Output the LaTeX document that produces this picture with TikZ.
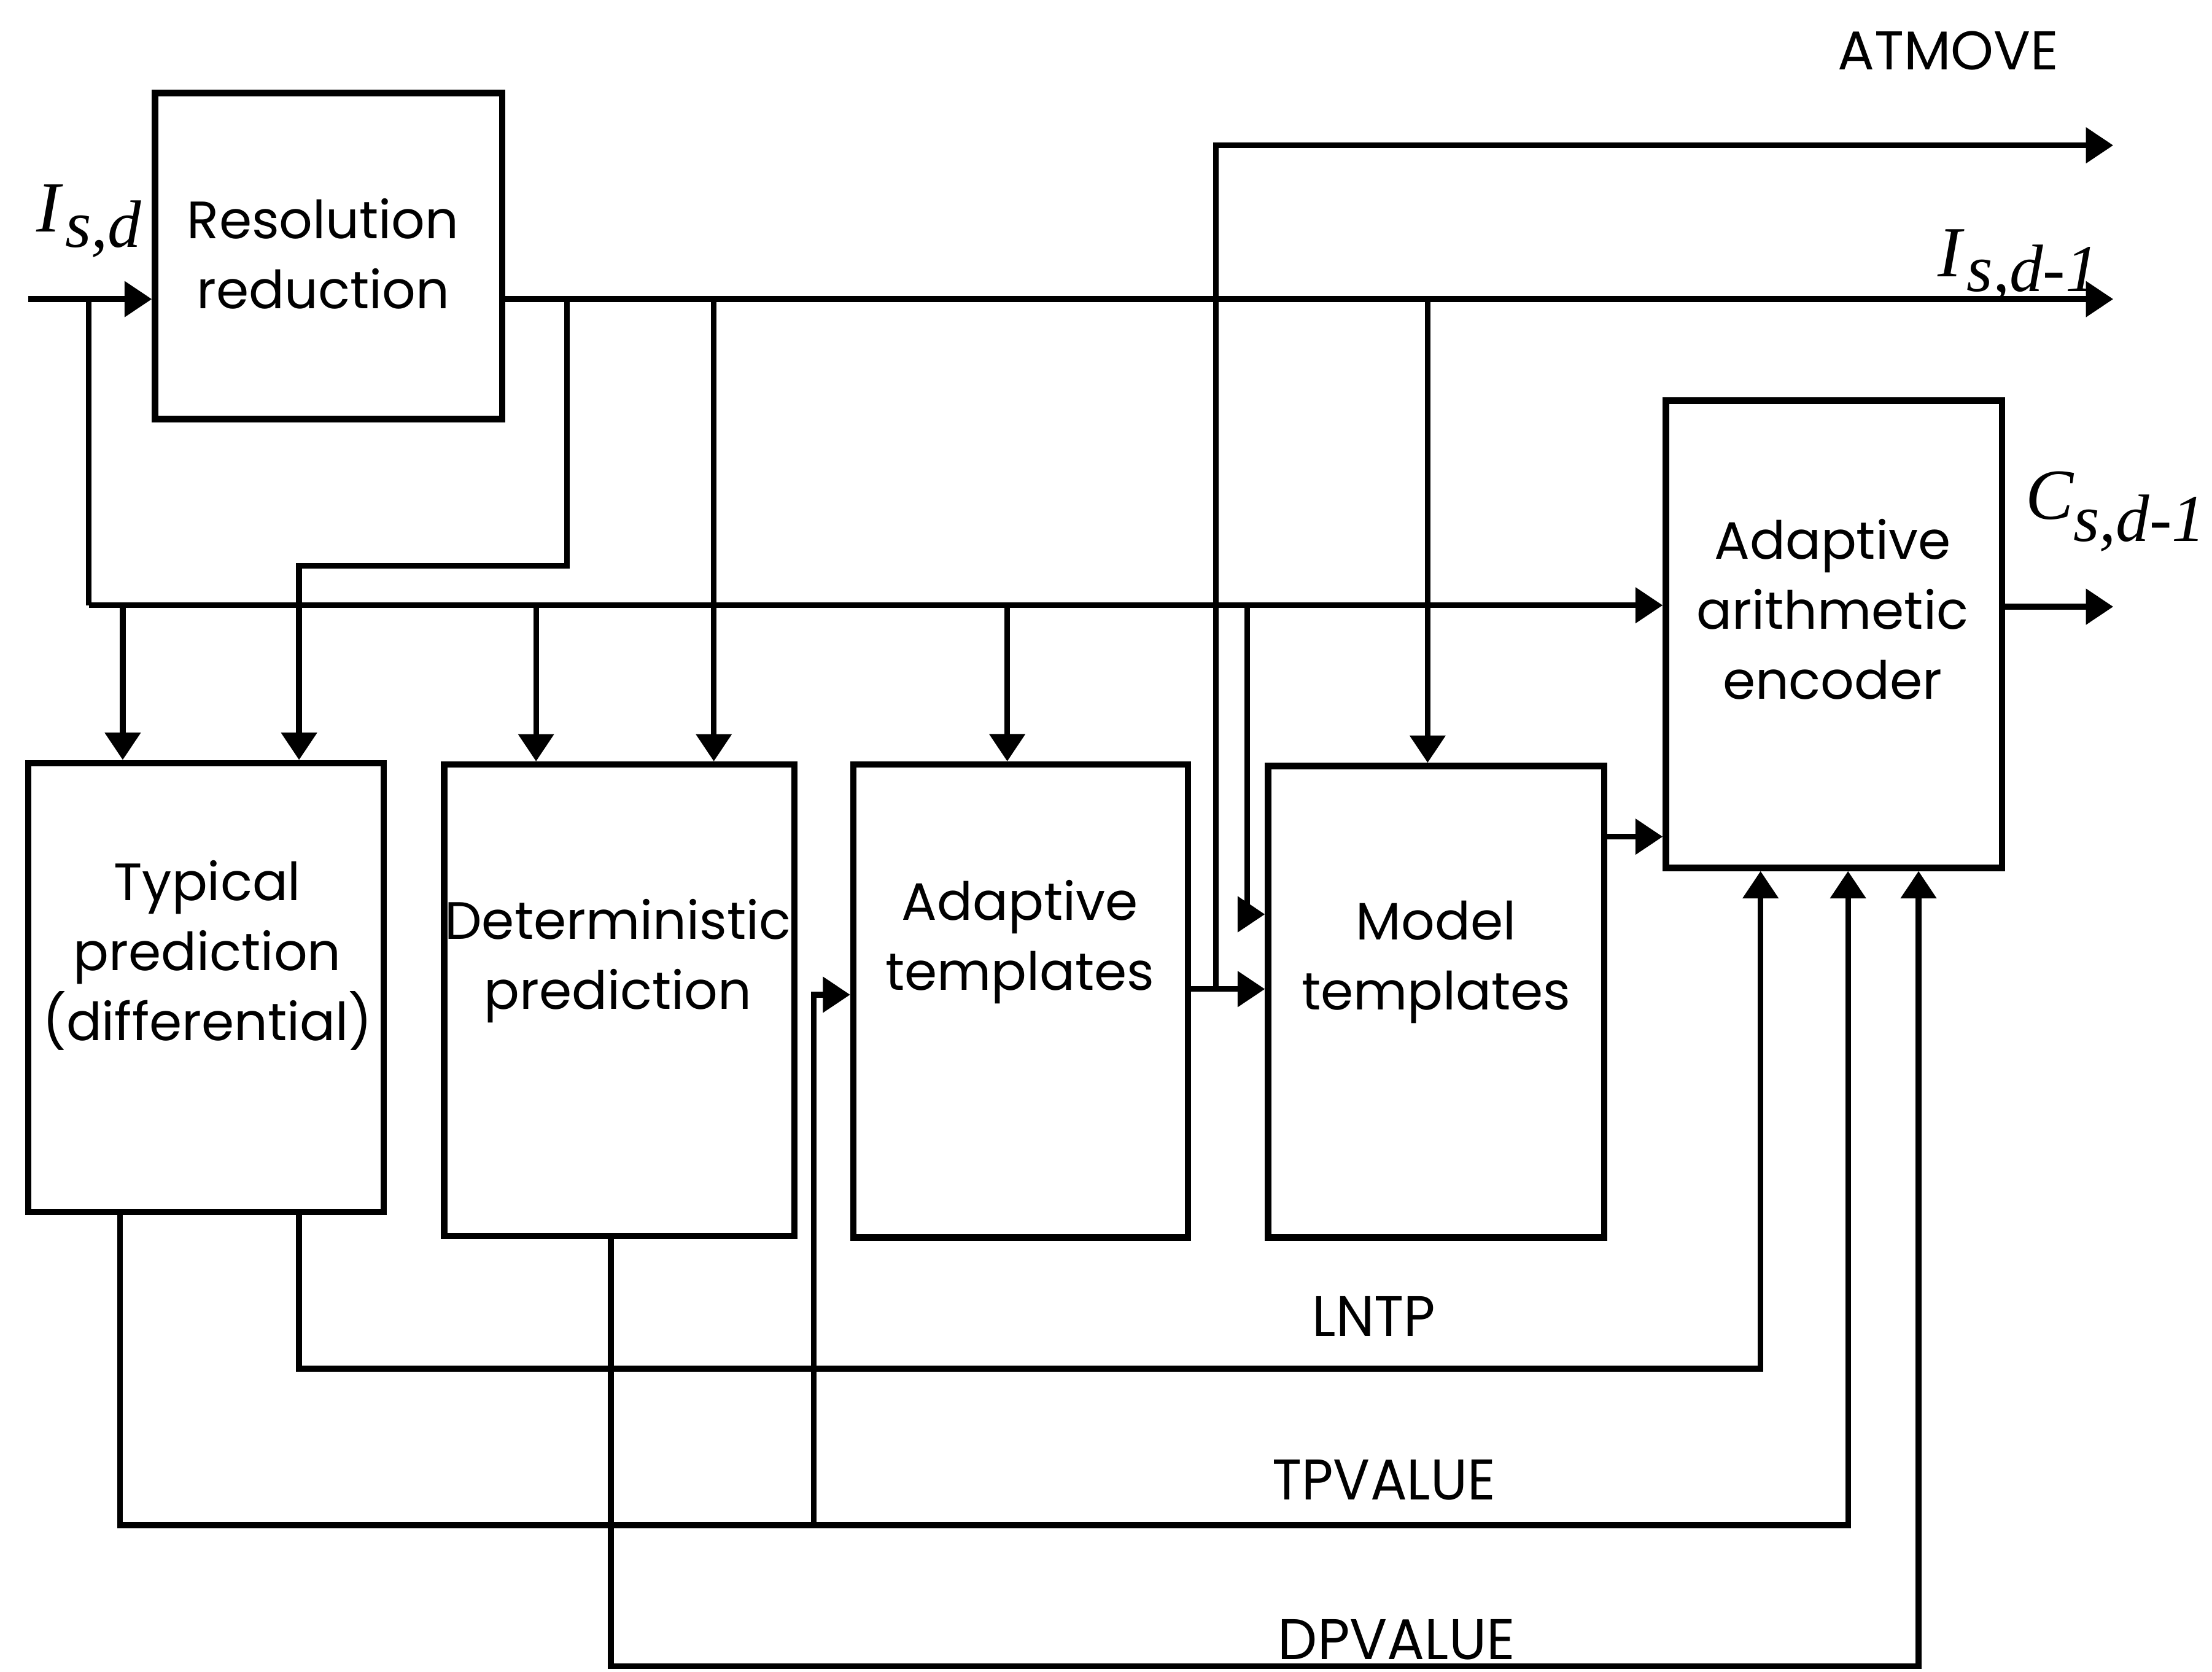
\documentclass[tikz,border=0pt]{standalone}
\usepackage{fontspec}
\setmainfont{Poppins}
\newfontfamily\tms{Liberation Serif}
\usetikzlibrary{arrows.meta}
\begin{document}
\begin{tikzpicture}[x=0.01cm,y=-0.01cm,
 box/.style={draw,line width=1.3pt,inner sep=0pt},
 txt/.style={align=center,inner sep=0pt,font=\fontsize{10.6}{14.1}\selectfont},
 sig/.style={inner sep=0pt,font=\fontsize{11}{13}\selectfont},
 wire/.style={line width=1.15pt},
 arr/.style={wire,-{Triangle[length=5.5pt,width=7pt]}},
 ital/.style={inner sep=0pt,anchor=base west,font=\tms\itshape\fontsize{14.5}{15}\selectfont}]
\useasboundingbox (0,0) rectangle (1568,1185);
\fill[white] (0,0) rectangle (1568,1185);

% boxes
\node[box,minimum width=2.46cm,minimum height=2.31cm] (res) at (233,181.5) {};
\node[box,minimum width=2.52cm,minimum height=3.18cm] (typ) at (146,700) {};
\node[box,minimum width=2.48cm,minimum height=3.34cm] (det) at (439,709) {};
\node[box,minimum width=2.37cm,minimum height=3.35cm] (adt) at (723.5,709.5) {};
\node[box,minimum width=2.38cm,minimum height=3.34cm] (mod) at (1018,710) {};
\node[box,minimum width=2.38cm,minimum height=3.31cm] (enc) at (1300,449.5) {};

% box texts
\node[txt] (rest) at (229,180) {Resolution\\reduction};
\node[txt] (typt) at (147,677) {Typical\\prediction\\(differential)};
\node[txt] (dett) at (438,681) {Deterministic\\prediction};
\node[txt] (adtt) at (723,667.5) {Adaptive\\templates};
\node[txt] (modt) at (1018,682) {Model\\templates};
\node[txt] (enct) at (1299,432) {Adaptive\\arithmetic\\encoder};

% helper coordinates
\coordinate (inL) at (20,212);
\coordinate (j1) at (63,212);
\coordinate (bus) at (63,429);
\coordinate (d1) at (87,429);
\coordinate (d2) at (380,429);
\coordinate (d3) at (714,429);
\coordinate (d4) at (884,429);
\coordinate (d4b) at (884,648);
\coordinate (oI) at (1498,212);
\coordinate (r1) at (402,212);
\coordinate (r1b) at (402,401);
\coordinate (r1c) at (212,401);
\coordinate (r2) at (506,212);
\coordinate (r3) at (1012,212);
\coordinate (a1) at (862,701);
\coordinate (a2) at (862,103);
\coordinate (oA) at (1498,103);
\coordinate (m1) at (0,593);
\coordinate (oC) at (1498,430);
\coordinate (l1) at (212,970);
\coordinate (l2) at (1248,970);
\coordinate (t1) at (85,1081);
\coordinate (t2) at (1310,1081);
\coordinate (t3) at (577,1081);
\coordinate (t4) at (577,705);
\coordinate (p1) at (433,1181);
\coordinate (p2) at (1360,1181);

% input and bus
\draw[arr] (inL) -- (inL -| res.west);
\draw[wire] (j1) -- (bus);
\draw[arr] (bus) -- (bus -| enc.west);
\draw[arr] (d1) -- (d1 |- typ.north);
\draw[arr] (d2) -- (d2 |- det.north);
\draw[arr] (d3) -- (d3 |- adt.north);
\draw[arr] (d4) -- (d4b) -- (d4b -| mod.west);

% reduced resolution output
\draw[arr] (res.east |- oI) -- (oI);
\draw[arr] (r1) -- (r1b) -- (r1c) -- (r1c |- typ.north);
\draw[arr] (r2) -- (r2 |- det.north);
\draw[arr] (r3) -- (r3 |- mod.north);

% ATMOVE
\draw[wire] (adt.east |- a1) -- (a1);
\draw[arr] (a1) -- (a2) -- (oA);
\draw[arr] (a1) -- (a1 -| mod.west);

% model -> encoder, encoder out
\draw[arr] (mod.east |- m1) -- (enc.west |- m1);
\draw[arr] (enc.east |- oC) -- (oC);

% LNTP, TPVALUE, DPVALUE
\draw[arr] (l1 |- typ.south) -- (l1) -- (l2) -- (l2 |- enc.south);
\draw[arr] (t1 |- typ.south) -- (t1) -- (t2) -- (t2 |- enc.south);
\draw[arr] (t3) -- (t4) -- (t4 -| adt.west);
\draw[arr] (p1 |- det.south) -- (p1) -- (p2) -- (p2 |- enc.south);

% labels
\node[sig] (atmove) at (1381,36) {ATMOVE};
\node[sig] (lntp) at (974,933) {\scalebox{1.0}[1.05]{LNTP}};
\node[sig] (tpv) at (981,1049) {\scalebox{1.0}[1.05]{TPVALUE}};
\node[sig] (dpv) at (990,1162) {\scalebox{1.02}[1.05]{DPVALUE}};

\node[ital] (lisd) at (25,164.5) {I\kern1pt\raisebox{-3pt}{\fontsize{13.5}{14}\selectfont s,d}};
\node[ital] (lisd1) at (1373,196) {I\kern1pt\raisebox{-3pt}{\fontsize{13.5}{14}\selectfont s,d-1}};
\node[ital] (lcsd1) at (1435,368) {C\raisebox{-4.5pt}{\fontsize{13.5}{14}\selectfont s,d-1}};
\end{tikzpicture}
\end{document}
